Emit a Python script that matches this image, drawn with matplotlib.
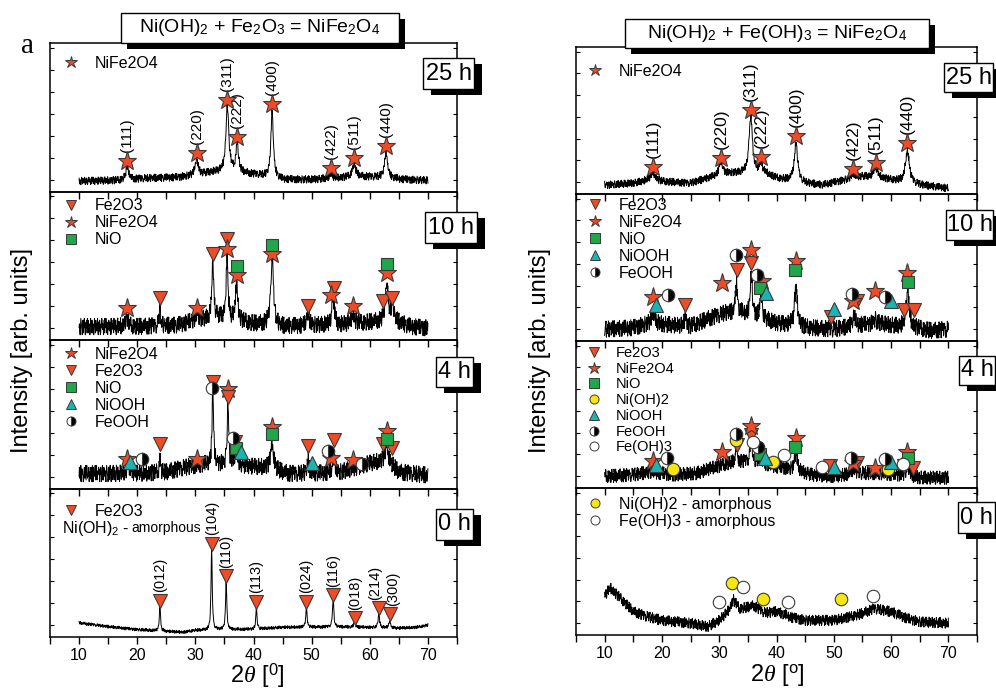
import numpy as np
import matplotlib.pyplot as plt
from matplotlib.lines import Line2D
from matplotlib.patches import Rectangle

plt.rcParams['font.family'] = ['Liberation Sans', 'DejaVu Sans']
plt.rcParams['mathtext.fontset'] = 'custom'
plt.rcParams['mathtext.rm'] = 'Liberation Sans'
plt.rcParams['mathtext.it'] = 'Liberation Serif:italic'
plt.rcParams['mathtext.bf'] = 'Liberation Sans:bold'

W, H = 996, 692

# ---- data (2theta in deg, intensity in % of panel height) ----
hkl_spinel = ['(111)', '(220)', '(311)', '(222)', '(400)', '(422)', '(511)', '(440)']
hkl_hematite = ['(012)', '(104)', '(110)', '(113)', '(024)', '(116)', '(018)', '(214)', '(300)']
hkl_hematite_dx = [0, 0, 0, 0, 0, 0, 0, -2.5, 2.5]

# hand typed jitter pattern for the detector noise
noise_digits = ("8316402957184625930752830164973650281974912740638527540918364619375280"
                "0538917462729046513831478205966028391574497153208618357602495263098417"
                "9407152638268934170571509264830394758126856201439748136790252759103864"
                "6138529407904627135838251907467401386259159724368053628170940874539612"
                "92136584706485027913183746205975302816496205748193")

# left column: Ni(OH)2 + Fe2O3
L25_base = [(10, 7), (17, 7.5), (22, 9), (27, 9.5), (30, 11), (33, 13), (38, 12.5), (41, 11),
            (45, 8), (50, 8), (54, 9), (58, 10), (62, 9.5), (66, 8), (70, 7.5)]
L25_peaks = [(18.3, 9, 0.3), (30.2, 11, 0.3), (35.5, 45, 0.3), (37.2, 20, 0.25), (43.2, 45, 0.25),
             (53.3, 3, 0.3), (57.3, 9, 0.35), (62.8, 17.5, 0.3)]
L25_marks = {'NiFe2O4': [(18.3, 20.8), (30.2, 26.2), (35.5, 61.8), (37.2, 37), (43.2, 59.2),
                         (53.3, 16.1), (57.3, 22.8), (62.8, 30.9)]}

L10_base = [(10, 9), (20, 9), (27, 10), (30, 13), (34, 15), (40, 11), (45, 9), (50, 10), (55, 10),
            (60, 12), (64, 13), (67, 9), (70, 8)]
L10_peaks = [(18.2, 6, 0.3), (23.9, 15.5, 0.12), (30.3, 5, 0.3), (33.0, 41, 0.18), (35.45, 43, 0.18),
             (37.1, 29, 0.2), (43.2, 46, 0.28), (49.4, 9, 0.2), (53.7, 19, 0.25), (57.1, 7, 0.3),
             (62.9, 28, 0.25), (63.9, 13, 0.25)]
L10_marks = {'Fe2O3': [(23.9, 28), (33.0, 58), (35.45, 68), (49.4, 22.6), (53.85, 35), (62.3, 26.4), (63.9, 28)],
             'NiFe2O4': [(18.2, 21.5), (30.3, 21.5), (35.45, 61), (37.1, 44), (43.2, 58), (53.4, 30),
                         (57.1, 22.6), (62.9, 45.4)],
             'NiO': [(37.1, 50), (43.2, 64), (62.9, 51)]}

L4_base = [(10, 10), (20, 10), (25, 11), (28, 14), (31, 16), (34, 16), (39, 15), (42, 14), (46, 10),
           (50, 10), (55, 11), (60, 17), (63, 19), (65, 11), (70, 9)]
L4_peaks = [(18.5, 5, 0.4), (23.9, 9, 0.12), (33.0, 52, 0.15), (35.6, 43, 0.15), (37.0, 10, 0.3),
            (43.2, 18, 0.3), (49.4, 9, 0.2), (53.85, 11, 0.2), (62.9, 10, 0.3)]
L4_marks = {'NiFe2O4': [(18.2, 19.7), (30.3, 19.7), (35.6, 67), (43.2, 41.4), (53.4, 20.6), (57.1, 19), (62.9, 38.5)],
            'Fe2O3': [(23.9, 30), (33.0, 71.6), (35.6, 61.5), (36.9, 31.3), (49.4, 28.7), (53.85, 32.4),
                      (62.3, 30.2), (63.9, 27.3)],
            'NiO': [(37.0, 27), (43.2, 37), (62.9, 33)],
            'NiOOH': [(18.8, 17.9), (37.9, 24.6), (50.0, 17.2)],
            'FeOOH': [(20.8, 19.7), (32.8, 67.6), (36.4, 34), (52.8, 25.3), (58.7, 16.8)]}

L0_base = [(10, 9.6), (12, 8.5), (15, 7), (20, 5), (25, 3.8), (28, 3.2), (30, 4.5), (35, 5), (40, 5.2),
           (45, 6.5), (50, 6.7), (55, 6.8), (60, 6.5), (65, 6), (68, 6.5), (70, 8)]
L0_peaks = [(23.9, 17.5, 0.12), (32.8, 55.5, 0.12), (35.3, 34, 0.12), (40.5, 15, 0.12), (49.1, 14, 0.12),
            (53.7, 19.5, 0.13), (57.4, 3.7, 0.15), (61.55, 9.4, 0.15), (63.4, 5, 0.15)]
L0_marks = {'Fe2O3': [(23.9, 24.4), (32.8, 62.9), (35.3, 41), (40.5, 23.7), (49.1, 23.7), (53.7, 28.2),
                      (57.4, 12.5), (61.55, 19.3), (63.4, 15.4)]}

# right column: Ni(OH)2 + Fe(OH)3
R25_base = [(10, 6.1), (15, 7.3), (18, 9.5), (20, 8.4), (25, 7.3), (28, 10.7), (32, 14), (38, 14), (40, 10.7),
            (45, 7.3), (48, 6.1), (52, 9.5), (55, 11.8), (58, 10.7), (60, 9.5), (65, 6.1), (70, 3.9)]
R25_peaks = [(18.45, 5, 0.5), (30.3, 9, 0.4), (35.5, 39, 0.35), (37.3, 7, 0.3), (43.4, 26, 0.35),
             (53.4, 3, 0.4), (57.3, 7, 0.45), (62.85, 22, 0.4)]
R25_marks = {'NiFe2O4': [(18.45, 18.6), (30.3, 24.7), (35.5, 57), (37.3, 25.4), (43.4, 39.5),
                         (53.4, 16.8), (57.3, 21.3), (62.85, 34.5)]}

R10_base = [(10, 8), (15, 9), (18, 12), (21, 11), (25, 10), (28, 15), (31, 19), (34, 19), (37, 16), (40, 12),
            (45, 9), (50, 8), (55, 11), (58, 12), (61, 10), (64, 9), (67, 7), (70, 8)]
R10_peaks = [(18.5, 8, 0.3), (24.1, 9, 0.15), (33.0, 21, 0.2), (35.6, 29, 0.2), (37.3, 17, 0.2),
             (43.4, 27, 0.3), (53.5, 7, 0.3), (57.2, 3, 0.3), (62.9, 26, 0.3)]
R10_marks = {'Fe2O3': [(24.1, 24.6), (33.1, 48.3), (35.6, 53.3), (49.45, 16), (54.1, 27.2), (62.3, 21.3), (64.0, 20.8)],
             'NiFe2O4': [(18.45, 30), (30.4, 39.2), (35.6, 61.9), (37.4, 41), (43.4, 54.4), (53.3, 27.2),
                         (57.2, 34.2), (62.85, 46)],
             'NiO': [(37.2, 36.2), (43.3, 48.3), (62.9, 40)],
             'NiOOH': [(18.9, 24.8), (38.1, 32.8), (50.0, 22), (60.0, 27)],
             'FeOOH': [(21.0, 31.5), (33.0, 58.5), (36.6, 44.9), (53.1, 32), (59.0, 30.2)]}

R4_base = [(10, 8), (15, 9), (18, 11), (22, 9), (26, 10), (29, 14), (32, 17), (35, 18), (38, 16), (42, 13),
           (46, 9), (50, 8), (54, 10), (58, 10), (61, 9), (65, 7), (70, 7)]
R4_peaks = [(33.0, 10, 0.2), (35.6, 16, 0.2), (37.2, 4, 0.3), (43.4, 12, 0.3), (53.5, 4, 0.3), (62.9, 8, 0.3)]
R4_marks = {'Fe2O3': [(33.1, 29.3), (35.6, 36), (49.3, 15), (54.0, 17.2), (62.3, 15), (63.9, 13.4)],
            'NiFe2O4': [(18.45, 18.4), (30.4, 24.7), (35.6, 42.4), (43.4, 34.2), (53.4, 16.8), (57.2, 13.8), (62.85, 24.7)],
            'NiO': [(37.2, 23), (43.3, 27.7), (62.9, 20.6)],
            'Ni(OH)2': [(21.9, 12.9), (33.0, 32.7), (39.4, 17.9), (59.5, 12.7)],
            'NiOOH': [(18.9, 15.6), (38.0, 20.6), (50.0, 14), (60.0, 17.5)],
            'FeOOH': [(20.9, 20.2), (33.0, 36.5), (36.8, 28), (53.0, 20.6), (59.0, 19.5)],
            'Fe(OH)3': [(35.9, 31.5), (41.35, 22.4), (48.0, 14), (62.0, 16.1)]}

R0_base = [(10, 27), (11, 32), (12, 28), (13, 24), (15, 16), (17, 13), (20, 10), (25, 8), (28, 5.7), (30, 10),
           (31.5, 16), (32.5, 24), (33.5, 18), (35, 19), (36, 20), (38, 15), (40, 16), (43, 11.6), (45, 10),
           (50, 10), (53, 12.5), (55, 14.7), (57, 18), (60, 15.9), (63, 11), (65, 9), (70, 8)]
R0_peaks = []
R0_marks = {'Ni(OH)2': [(32.3, 35.2), (37.7, 24.3), (51.3, 24.5)],
            'Fe(OH)3': [(30.0, 22.2), (34.2, 32.4), (42.05, 22.2), (56.8, 26.5)]}

# ---- styles ----
RED, GREEN, CYAN, YELLOW = '#ee4b26', '#1fa84a', '#1bb3b3', '#f5e614'
EDGE = '#3a3a3a'
STYLE = {
    'Fe2O3': dict(marker='v', mfc=RED, ms=10),
    'NiFe2O4': dict(marker='*', mfc=RED, ms=14),
    'NiO': dict(marker='s', mfc=GREEN, ms=8),
    'Ni(OH)2': dict(marker='o', mfc=YELLOW, ms=9),
    'NiOOH': dict(marker='^', mfc=CYAN, ms=10),
    'FeOOH': dict(marker='o', mfc='black', fillstyle='right', markerfacecoloralt='white', ms=9),
    'Fe(OH)3': dict(marker='o', mfc='white', ms=9),
}

noise = (np.array([int(c) for c in noise_digits]) - 4.5) / 4.5
grid = np.round(np.arange(10, 70.001, 0.06), 3)


def spectrum(base, peaks, amp, shift):
    x = np.union1d(grid, [p[0] for p in peaks])
    bx, by = zip(*base)
    y = np.interp(x, bx, by)
    for c, h, w in peaks:
        y = y + h / (1 + ((x - c) / w) ** 2)
    nz = np.roll(np.resize(noise, len(grid)), shift)
    return x, y + amp * np.interp(x, grid, nz)


def px_rect(x0, y0, x1, y1, **kw):
    return Rectangle((x0 / W, 1 - y1 / H), (x1 - x0) / W, (y1 - y0) / H,
                     transform=fig.transFigure, **kw)


def shadow_box(x0, y0, x1, y1, text, fs, dx=7, dy=6):
    fig.add_artist(px_rect(x0 + dx, y0 + dy, x1 + dx, y1 + dy, fc='black', ec='none', zorder=5))
    fig.add_artist(px_rect(x0, y0, x1, y1, fc='white', ec='black', lw=1, zorder=6))
    fig.text((x0 + x1) / 2 / W, 1 - (y0 + y1) / 2 / H, text, ha='center', va='center',
             fontsize=fs, zorder=7)


fig = plt.figure(figsize=(W / 100, H / 100), dpi=100)

columns = [
    dict(x0=50, x1=457, top=43, ph=148.5,
         panels=[(L25_base, L25_peaks, L25_marks, 2.5, 0, ['NiFe2O4'], '25 h', (423, 58, 474, 89)),
                 (L10_base, L10_peaks, L10_marks, 5.5, 37, ['Fe2O3', 'NiFe2O4', 'NiO'], '10 h', (425, 212, 477, 243)),
                 (L4_base, L4_peaks, L4_marks, 5.5, 111, ['NiFe2O4', 'Fe2O3', 'NiO', 'NiOOH', 'FeOOH'], '4 h', (436, 357, 473, 387)),
                 (L0_base, L0_peaks, L0_marks, 1.0, 205, ['Fe2O3'], '0 h', (436, 509, 473, 540))],
         leg=[(13, 13, 11.5), (13, 7, 11.5), (13, 7, 11.5), (13, 15, 11.5)],
         ylab=22, xlab=r'2$\theta$ [$^{0}$]', xlab_pos=(257, 676), lblfs=11),
    dict(x0=576, x1=977, top=47, ph=147,
         panels=[(R25_base, R25_peaks, R25_marks, 2.5, 61, ['NiFe2O4'], '25 h', (944, 63, 993, 92)),
                 (R10_base, R10_peaks, R10_marks, 5.5, 149, ['Fe2O3', 'NiFe2O4', 'NiO', 'NiOOH', 'FeOOH'], '10 h', (946, 210, 993, 240)),
                 (R4_base, R4_peaks, R4_marks, 4.5, 233, ['Fe2O3', 'NiFe2O4', 'NiO', 'Ni(OH)2', 'NiOOH', 'FeOOH', 'Fe(OH)3'], '4 h', (959, 356, 995, 385)),
                 (R0_base, R0_peaks, R0_marks, 3.5, 277, ['Ni(OH)2', 'Fe(OH)3'], '0 h', (958, 502, 995, 533))],
         leg=[(11, 17, 11.5), (11, 4, 11.5), (11, 5, 10.5), (11, 9, 11.5)],
         ylab=540, xlab=r'2$\theta$ [$^{\mathrm{o}}$]', xlab_pos=(777, 675), lblfs=12.5),
]

for col in columns:
    for i, (base, peaks, marks, amp, shift, order, tlabel, tbox) in enumerate(col['panels']):
        top = col['top'] + i * col['ph']
        ax = fig.add_axes([col['x0'] / W, 1 - (top + col['ph']) / H,
                           (col['x1'] - col['x0']) / W, col['ph'] / H])
        ax.patch.set_visible(False)
        x, y = spectrum(base, peaks, amp, shift)
        ax.plot(x, y, color='black', lw=0.7, zorder=2)
        for phase, pts in marks.items():
            xs, ys = zip(*pts)
            ax.plot(xs, ys, linestyle='none', mec=EDGE, mew=0.8, zorder=6, **STYLE[phase])
        ax.set_xlim(5, 75)
        ax.set_ylim(0, 100)
        ax.set_xticks(np.arange(5, 76, 5))
        ax.set_xticklabels([str(v) if v % 10 == 0 and 10 <= v <= 70 else '' for v in range(5, 76, 5)])
        ax.set_yticks(np.arange(8, 100, 14.8))
        ax.tick_params(axis='x', direction='out', length=5, width=1, labelsize=11.5, pad=3,
                       labelbottom=(i == 3))
        ax.tick_params(axis='y', direction='in', length=3, width=0.8, left=True, right=True,
                       labelleft=False)
        for s in ax.spines.values():
            s.set_linewidth(1.1)

        # legend
        lx, ly, lfs = col['leg'][i]
        handles = []
        for phase in order:
            st = dict(STYLE[phase])
            st['ms'] = 9 if phase == 'NiFe2O4' else 6.5
            handles.append(Line2D([], [], linestyle='none', mec=EDGE, mew=0.7, **st))
        labels = list(order)
        if col['x0'] > 500 and i == 3:
            labels = ['Ni(OH)2 - amorphous', 'Fe(OH)3 - amorphous']
        axw = col['x1'] - col['x0']
        leg = ax.legend(handles, labels, loc='upper left', bbox_to_anchor=(lx / axw, 1 - ly / col['ph']),
                        frameon=False, fontsize=lfs, handlelength=1.0, handletextpad=1.0,
                        labelspacing=0.12, borderpad=0, borderaxespad=0)
        leg.set_zorder(3)

        # hkl labels
        if i == 0:
            for (mx, my), lbl in zip(marks['NiFe2O4'], hkl_spinel):
                ax.annotate(lbl, (mx, my), xytext=(0, 6.5), textcoords='offset points', rotation=90,
                            ha='center', va='bottom', fontsize=col['lblfs'])
        if i == 3 and 'Fe2O3' in marks:
            for (mx, my), lbl, dx in zip(marks['Fe2O3'], hkl_hematite, hkl_hematite_dx):
                ax.annotate(lbl, (mx, my), xytext=(dx, 6), textcoords='offset points', rotation=90,
                            ha='center', va='bottom', fontsize=10.5)
            t1 = ax.text(12 / axw, 1 - 44 / col['ph'], r'Ni(OH)$_2$ - ', transform=ax.transAxes,
                         fontsize=11.5, va='baseline', ha='left')
            ax.annotate('amorphous', xy=(1, 0), xycoords=t1, xytext=(1, 1.8), textcoords='offset points',
                        fontsize=10, va='bottom', ha='left')

        shadow_box(*tbox, tlabel, 17, dx=8, dy=6)

    fig.text(col['ylab'] / W, 1 - 350 / H, 'Intensity [arb. units]', rotation=90,
             ha='center', va='center', fontsize=17)
    fig.text(col['xlab_pos'][0] / W, 1 - col['xlab_pos'][1] / H, col['xlab'],
             ha='center', va='center', fontsize=17)

shadow_box(121, 13, 399, 43, r'Ni(OH)$_2$ + Fe$_2$O$_3$ = NiFe$_2$O$_4$', 14, dx=6, dy=6)
shadow_box(625, 19, 929, 48, r'Ni(OH)$_2$ + Fe(OH)$_3$ = NiFe$_2$O$_4$', 14, dx=6, dy=6)
fig.text(27 / W, 1 - 46 / H, 'a', family='Liberation Serif', fontsize=21, ha='center', va='center')

fig.savefig('out.png', dpi=100)
